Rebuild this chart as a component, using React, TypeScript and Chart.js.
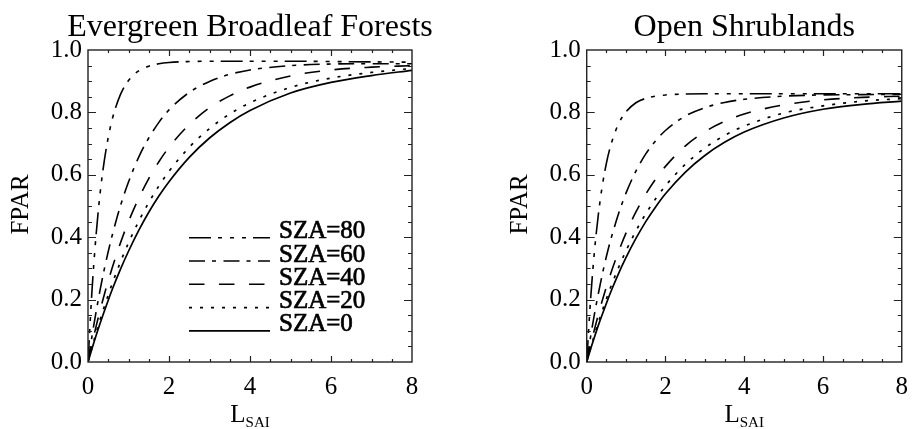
import React, { useEffect, useRef } from "react";
import { Chart, registerables } from "chart.js";

Chart.register(...registerables);

const FONT = '"Liberation Serif", "Times New Roman", Times, serif';

// L_SAI sample positions
const lsai = [0, 0.1, 0.2, 0.3, 0.4, 0.5, 0.6, 0.8, 1.0, 1.25, 1.5, 1.75, 2, 2.5, 3, 3.5, 4, 5, 6, 7, 8];

// Evergreen Broadleaf Forests
const ebf80 = [0, 0.232, 0.408, 0.542, 0.643, 0.72, 0.779, 0.857, 0.902, 0.933, 0.948, 0.956, 0.96, 0.963, 0.964, 0.964, 0.964, 0.964, 0.963, 0.962, 0.961];
const ebf60 = [0, 0.084, 0.161, 0.232, 0.296, 0.354, 0.407, 0.5, 0.577, 0.656, 0.718, 0.768, 0.808, 0.864, 0.899, 0.922, 0.936, 0.95, 0.955, 0.956, 0.956];
const ebf40 = [0, 0.059, 0.114, 0.166, 0.215, 0.26, 0.303, 0.381, 0.45, 0.524, 0.588, 0.642, 0.688, 0.761, 0.815, 0.853, 0.881, 0.917, 0.936, 0.945, 0.95];
const ebf20 = [0, 0.047, 0.093, 0.136, 0.176, 0.215, 0.252, 0.32, 0.382, 0.45, 0.511, 0.564, 0.611, 0.688, 0.748, 0.795, 0.831, 0.88, 0.91, 0.928, 0.941];
const ebf0 = [0, 0.043, 0.085, 0.124, 0.162, 0.198, 0.233, 0.297, 0.355, 0.421, 0.48, 0.532, 0.578, 0.656, 0.718, 0.767, 0.806, 0.862, 0.896, 0.918, 0.935];

// Open Shrublands
const osh80 = [0, 0.203, 0.359, 0.477, 0.568, 0.637, 0.69, 0.761, 0.802, 0.831, 0.845, 0.852, 0.856, 0.859, 0.86, 0.86, 0.86, 0.86, 0.86, 0.86, 0.86];
const osh60 = [0, 0.082, 0.156, 0.222, 0.283, 0.338, 0.387, 0.472, 0.542, 0.612, 0.667, 0.709, 0.742, 0.788, 0.815, 0.832, 0.842, 0.852, 0.856, 0.857, 0.858];
const osh40 = [0, 0.055, 0.106, 0.154, 0.199, 0.241, 0.28, 0.351, 0.414, 0.481, 0.538, 0.586, 0.627, 0.692, 0.738, 0.771, 0.795, 0.824, 0.84, 0.848, 0.852];
const osh20 = [0, 0.045, 0.088, 0.128, 0.166, 0.202, 0.237, 0.3, 0.357, 0.42, 0.475, 0.523, 0.565, 0.633, 0.686, 0.726, 0.756, 0.798, 0.821, 0.836, 0.844];
const osh0 = [0, 0.042, 0.081, 0.119, 0.154, 0.188, 0.221, 0.281, 0.335, 0.396, 0.45, 0.497, 0.539, 0.608, 0.662, 0.704, 0.737, 0.782, 0.81, 0.826, 0.836];

const seriesLabels = ["SZA=80", "SZA=60", "SZA=40", "SZA=20", "SZA=0"];
const seriesDashes = [[22, 7, 4, 8, 4, 8, 4, 7], [16, 7, 4, 7.5], [15.5, 14.5], [3, 8], []];
const seriesWidths = [1.6, 1.6, 1.6, 1.7, 1.7];

const xMin = 0, xMax = 8, xStep = 2, xMinor = 0.5;
const yMin = 0, yMax = 1, yStep = 0.2, yMinor = 0.05;

const panels = [
  { title: "Evergreen Broadleaf Forests", series: [ebf80, ebf60, ebf40, ebf20, ebf0], legend: true, offset: 0, areaLeft: 88, areaRight: 412 },
  { title: "Open Shrublands", series: [osh80, osh60, osh40, osh20, osh0], legend: false, offset: 459, areaLeft: 127.7, areaRight: 452.7 },
];

const CW = 459, CH = 429;

function makeDecor(cfg: any) {
  return {
    id: "decor" + cfg.offset,
    afterDatasetsDraw(chart: any) {
      const { ctx, chartArea: a, scales } = chart;
      const xs = scales.x, ys = scales.y;
      ctx.save();
      ctx.strokeStyle = "#222";
      ctx.lineWidth = 1.4;
      ctx.setLineDash([]);
      ctx.strokeRect(a.left, a.top, a.right - a.left, a.bottom - a.top);
      ctx.lineWidth = 1.2;
      ctx.beginPath();
      const nx = Math.round((xMax - xMin) / xMinor);
      for (let i = 1; i < nx; i++) {
        const v = xMin + i * xMinor;
        const px = Math.round(xs.getPixelForValue(v)) + 0.5;
        const major = Math.abs(v / xStep - Math.round(v / xStep)) < 1e-6;
        const len = major ? 6 : 3;
        ctx.moveTo(px, a.bottom); ctx.lineTo(px, a.bottom - len);
        ctx.moveTo(px, a.top); ctx.lineTo(px, a.top + len);
      }
      const ny = Math.round((yMax - yMin) / yMinor);
      for (let i = 1; i < ny; i++) {
        const v = yMin + i * yMinor;
        const py = Math.round(ys.getPixelForValue(v)) + 0.5;
        const major = Math.abs(v / yStep - Math.round(v / yStep)) < 1e-6;
        const len = major ? 8 : 4;
        ctx.moveTo(a.left, py); ctx.lineTo(a.left + len, py);
        ctx.moveTo(a.right, py); ctx.lineTo(a.right - len, py);
      }
      ctx.stroke();

      ctx.fillStyle = "#000";
      // title
      ctx.font = `32px ${FONT}`;
      ctx.textAlign = "center";
      ctx.textBaseline = "alphabetic";
      ctx.fillText(cfg.title, (a.left + a.right) / 2, 36);

      // y title
      ctx.save();
      ctx.translate(a.left - 60, (a.top + a.bottom) / 2 - 1.5);
      ctx.rotate(-Math.PI / 2);
      ctx.font = `25px ${FONT}`;
      ctx.textAlign = "center";
      ctx.fillText("FPAR", 0, 0);
      ctx.restore();

      // x title with subscript
      ctx.font = `25px ${FONT}`;
      const wL = ctx.measureText("L").width;
      ctx.font = `15px ${FONT}`;
      const wS = ctx.measureText("SAI").width;
      const x0 = (a.left + a.right) / 2 - (wL + wS) / 2;
      ctx.textAlign = "left";
      ctx.font = `25px ${FONT}`;
      ctx.fillText("L", x0, 421.7);
      ctx.font = `15px ${FONT}`;
      ctx.fillText("SAI", x0 + wL, 426.7);

      // legend
      if (cfg.legend) {
        chart.data.datasets.forEach((ds: any, i: number) => {
          const y = 237.7 + i * 23.3;
          ctx.save();
          ctx.strokeStyle = "#000";
          ctx.lineWidth = ds.borderWidth;
          ctx.setLineDash(ds.borderDash || []);
          ctx.beginPath();
          ctx.moveTo(a.left + 101, y);
          ctx.lineTo(a.left + 182, y);
          ctx.stroke();
          ctx.restore();
          ctx.font = `25px ${FONT}`;
          ctx.textAlign = "left";
          ctx.fillText(ds.label, a.left + 191, y + 0.5);
          ctx.save();
          ctx.strokeStyle = "#000";
          ctx.lineWidth = 0.7;
          ctx.strokeText(ds.label, a.left + 191, y + 0.5);
          ctx.restore();
        });
      }
      ctx.restore();
    },
  };
}

function Panel({ cfg }: { cfg: any }) {
  const ref = useRef<HTMLCanvasElement>(null);
  useEffect(() => {
    const canvas = ref.current!;
    const chart = new Chart(canvas, {
      type: "line",
      data: {
        datasets: cfg.series.map((s: number[], i: number) => ({
          label: seriesLabels[i],
          data: lsai.map((x, j) => ({ x, y: s[j] })),
          borderColor: "#000",
          borderWidth: seriesWidths[i],
          borderDash: seriesDashes[i],
          pointRadius: 0,
          fill: false,
          cubicInterpolationMode: "monotone",
        })),
      },
      options: {
        responsive: false,
        animation: false,
        devicePixelRatio: 1,
        layout: { padding: { top: 50, right: CW - cfg.areaRight, left: 0, bottom: 0 } },
        plugins: { legend: { display: false }, title: { display: false }, tooltip: { enabled: false } },
        scales: {
          x: {
            type: "linear",
            min: xMin,
            max: xMax,
            grid: { display: false, drawTicks: false },
            border: { display: false },
            ticks: { stepSize: xStep, padding: 10, color: "#000", font: { family: FONT, size: 25 }, maxRotation: 0 },
            afterFit(s: any) { s.height = CH - 362; },
          },
          y: {
            type: "linear",
            min: yMin,
            max: yMax,
            grid: { display: false, drawTicks: false },
            border: { display: false },
            ticks: { stepSize: yStep, padding: 6, color: "#000", font: { family: FONT, size: 25 }, callback: (v: any) => Number(v).toFixed(1) },
            afterFit(s: any) { s.width = cfg.areaLeft; },
          },
        },
      } as any,
      plugins: [makeDecor(cfg)],
    });
    return () => chart.destroy();
  }, []);
  return (
    <canvas
      ref={ref}
      width={CW}
      height={CH}
      style={{ position: "absolute", left: cfg.offset, top: 0, width: CW, height: CH }}
    />
  );
}

export default function App() {
  return (
    <div style={{ position: "absolute", left: 0, top: 0, width: 918, height: 429, background: "#fff", overflow: "hidden" }}>
      {panels.map((p) => (
        <Panel key={p.offset} cfg={p} />
      ))}
    </div>
  );
}
